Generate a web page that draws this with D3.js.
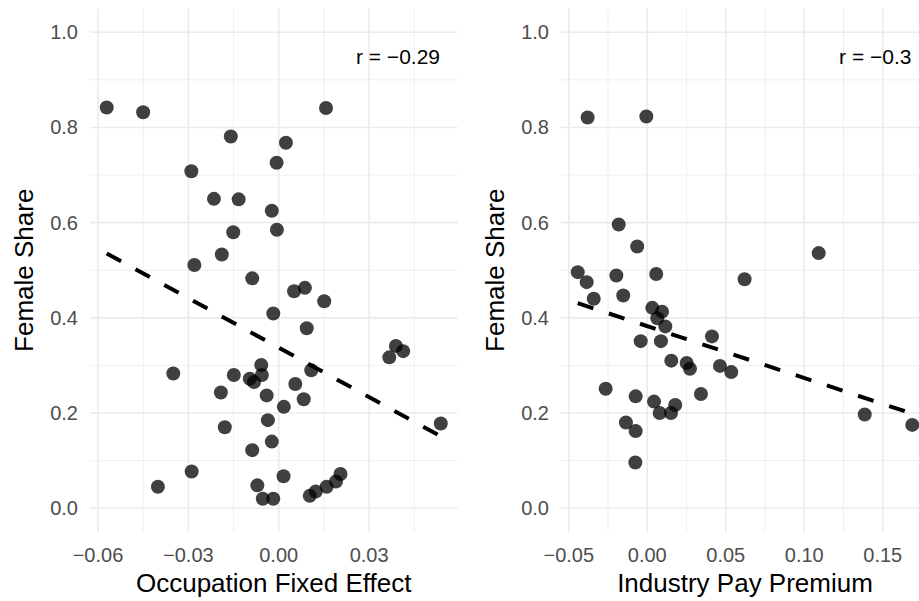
<!DOCTYPE html>
<html>
<head>
<meta charset="utf-8">
<script src="https://cdn.jsdelivr.net/npm/d3@7"></script>
<style>
  html, body { margin: 0; padding: 0; background: #ffffff; }
  svg { display: block; }
  text { font-family: "Liberation Sans", Arial, Helvetica, sans-serif; }
</style>
</head>
<body>
<svg id="chart" width="919" height="601"></svg>
<script>
// Occupation panel: fixed effect vs. female share
const occFixedEffect = [
  -0.0571, -0.0450, 0.0157, -0.0159, 0.0024, -0.0007, -0.0290, -0.0215, -0.0133, -0.0023,
  -0.0151, -0.0006, -0.0189, -0.0280, -0.0088, 0.0051, 0.0087, 0.0151, -0.0018, 0.0093,
  0.0389, 0.0413, 0.0367, -0.0350, -0.0149, -0.0058, -0.0056, -0.0096, -0.0082, 0.0108,
  0.0055, -0.0192, -0.0040, 0.0083, 0.0017, 0.0538, -0.0036, -0.0179, -0.0023, -0.0088,
  -0.0289, -0.0401, -0.0071, 0.0016, -0.0053, -0.0018, 0.0103, 0.0123, 0.0159, 0.0190,
  0.0205
];
const occFemaleShare = [
  0.842, 0.832, 0.841, 0.781, 0.768, 0.726, 0.708, 0.650, 0.649, 0.625,
  0.580, 0.585, 0.533, 0.511, 0.483, 0.456, 0.463, 0.435, 0.409, 0.378,
  0.341, 0.330, 0.317, 0.283, 0.280, 0.301, 0.280, 0.272, 0.265, 0.290,
  0.261, 0.243, 0.237, 0.229, 0.213, 0.178, 0.185, 0.170, 0.140, 0.122,
  0.077, 0.045, 0.048, 0.067, 0.020, 0.020, 0.026, 0.035, 0.045, 0.056,
  0.072
];

// Industry panel: pay premium vs. female share
const indPayPremium = [
  -0.0380, -0.0006, -0.0182, -0.0064, 0.1092, -0.0443, -0.0386, -0.0197, 0.0057, 0.0620,
  -0.0341, -0.0153, 0.0032, 0.0094, 0.0064, 0.0115, -0.0042, 0.0087, 0.0412, 0.0153,
  0.0251, 0.0272, 0.0463, 0.0535, 0.0342, -0.0265, -0.0074, 0.0043, 0.0178, 0.0079,
  0.0151, -0.0136, -0.0074, -0.0076, 0.1385, 0.1688
];
const indFemaleShare = [
  0.821, 0.823, 0.596, 0.550, 0.536, 0.496, 0.475, 0.489, 0.492, 0.481,
  0.440, 0.447, 0.421, 0.413, 0.399, 0.382, 0.351, 0.351, 0.361, 0.310,
  0.305, 0.293, 0.299, 0.286, 0.240, 0.251, 0.235, 0.224, 0.217, 0.200,
  0.200, 0.180, 0.162, 0.096, 0.197, 0.175
];

const xTicksOcc = [-0.06, -0.03, 0.00, 0.03];
const xTicksInd = [-0.05, 0.00, 0.05, 0.10, 0.15];
const yTicks = [0.0, 0.2, 0.4, 0.6, 0.8, 1.0];
const corrLabels = ["r = \u22120.29", "r = \u22120.3"];
const xTitles = ["Occupation Fixed Effect", "Industry Pay Premium"];
const yTitle = "Female Share";

const svg = d3.select("#chart");
const plotTop = 8.5, plotBottom = 532;
const gridColor = "#ebebeb";

const fmt = (dec) => (v) => {
  const s = Math.abs(v) < 1e-12 ? (0).toFixed(dec) : v.toFixed(dec);
  return s.replace("-", "\u2212");
};

function panel(xs, ys, left, right, xTicks, xDec, corrLabel, xTitle) {
  const ext = d3.extent(xs);
  const pad = (ext[1] - ext[0]) * 0.05;
  const x = d3.scaleLinear().domain([ext[0] - pad, ext[1] + pad]).range([left, right]);
  const y = d3.scaleLinear().domain([-0.05, 1.05]).range([plotBottom, plotTop]);
  const g = svg.append("g");

  // minor grid: midpoints between majors
  const step = xTicks[1] - xTicks[0];
  const xMinor = d3.range(xTicks[0] - step / 2, x.domain()[1], step)
    .filter(v => v >= x.domain()[0] && v <= x.domain()[1]);
  const yMinor = [0.1, 0.3, 0.5, 0.7, 0.9];
  g.selectAll(".xminor").data(xMinor).join("line")
    .attr("x1", d => x(d)).attr("x2", d => x(d)).attr("y1", plotTop).attr("y2", plotBottom)
    .attr("stroke", gridColor).attr("stroke-width", 0.8);
  g.selectAll(".yminor").data(yMinor).join("line")
    .attr("x1", left).attr("x2", right).attr("y1", d => y(d)).attr("y2", d => y(d))
    .attr("stroke", gridColor).attr("stroke-width", 0.8);
  g.selectAll(".xmajor").data(xTicks).join("line")
    .attr("x1", d => x(d)).attr("x2", d => x(d)).attr("y1", plotTop).attr("y2", plotBottom)
    .attr("stroke", gridColor).attr("stroke-width", 1.6);
  g.selectAll(".ymajor").data(yTicks).join("line")
    .attr("x1", left).attr("x2", right).attr("y1", d => y(d)).attr("y2", d => y(d))
    .attr("stroke", gridColor).attr("stroke-width", 1.6);

  // axis tick labels
  g.selectAll(".xlab").data(xTicks).join("text")
    .attr("x", d => x(d)).attr("y", 561.5)
    .attr("text-anchor", "middle").attr("font-size", 20).attr("fill", "#4d4d4d")
    .text(fmt(xDec));
  g.selectAll(".ylab").data(yTicks).join("text")
    .attr("x", left - 12).attr("y", d => y(d) + 7)
    .attr("text-anchor", "end").attr("font-size", 20).attr("fill", "#4d4d4d")
    .text(fmt(1));

  // axis titles
  g.append("text").attr("x", (left + right) / 2).attr("y", 591.5)
    .attr("text-anchor", "middle").attr("font-size", 26).attr("fill", "#000")
    .text(xTitle);
  g.append("text")
    .attr("transform", `translate(${left - 57},${(plotTop + plotBottom) / 2}) rotate(-90)`)
    .attr("text-anchor", "middle").attr("font-size", 26).attr("fill", "#000")
    .text(yTitle);

  // points
  const pts = xs.map((v, i) => [v, ys[i]]);
  g.selectAll(".pt").data(pts).join("circle")
    .attr("cx", d => x(d[0])).attr("cy", d => y(d[1])).attr("r", 7)
    .attr("fill", "#000").attr("fill-opacity", 0.75);

  // least-squares fit over the observed range
  const mx = d3.mean(xs), my = d3.mean(ys);
  const sxy = d3.sum(xs, (v, i) => (v - mx) * (ys[i] - my));
  const sxx = d3.sum(xs, v => (v - mx) * (v - mx));
  const b = sxy / sxx, a = my - b * mx;
  const line = d3.line().x(d => x(d)).y(d => y(a + b * d));
  g.append("path").datum(ext).attr("d", line)
    .attr("fill", "none").attr("stroke", "#000").attr("stroke-width", 4)
    .attr("stroke-dasharray", "16.4 16.4");

  // correlation annotation
  g.append("text").attr("x", right - 17.5).attr("y", 64)
    .attr("text-anchor", "end").attr("font-size", 21).attr("fill", "#000")
    .text(corrLabel);
}

panel(occFixedEffect, occFemaleShare, 90, 457.5, xTicksOcc, 2, corrLabels[0], xTitles[0]);
panel(indPayPremium, indFemaleShare, 561, 929, xTicksInd, 2, corrLabels[1], xTitles[1]);
</script>
</body>
</html>
